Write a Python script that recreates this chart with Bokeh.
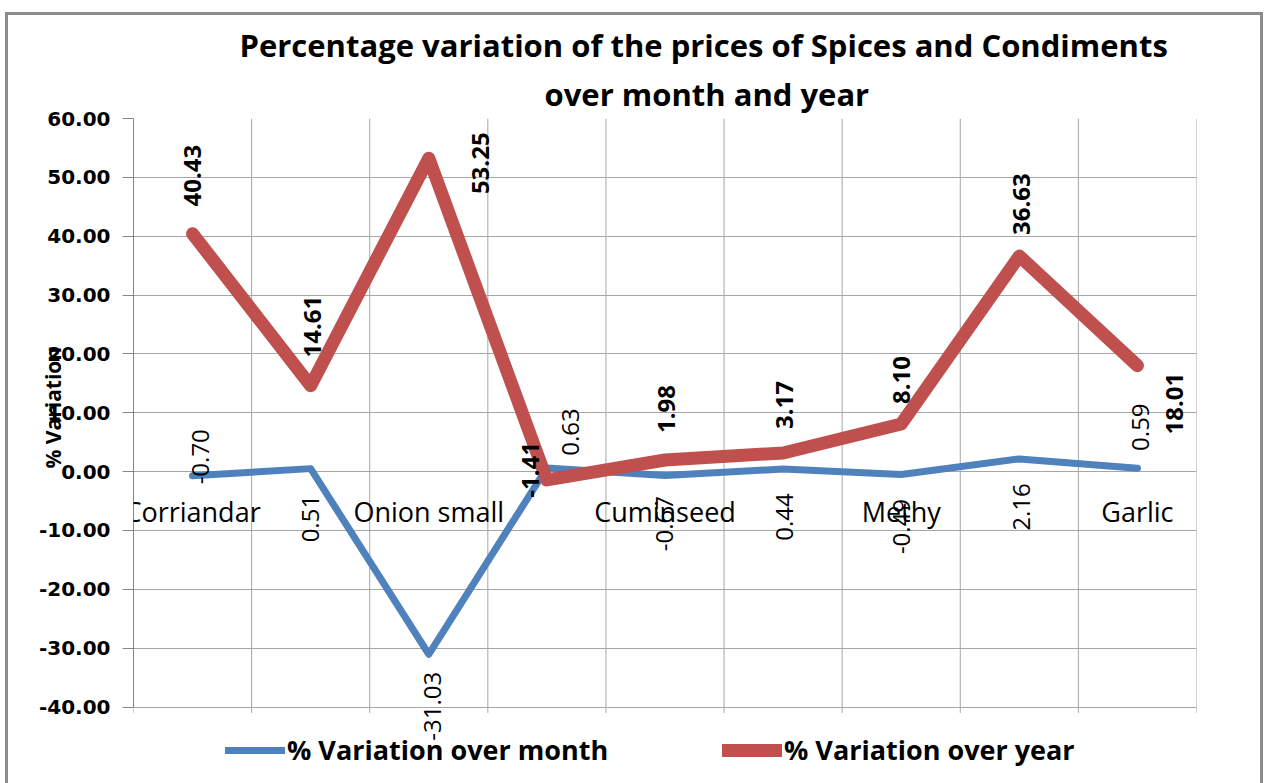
import math
from bokeh.plotting import figure
from bokeh.models import (ColumnDataSource, FixedTicker, LabelSet, Legend, LegendItem,
                          NumeralTickFormatter, Range1d, Title)
from bokeh.core.properties import value
from bokeh.embed import file_html
from bokeh.resources import INLINE

# ---------------- data ----------------
categories = ["Corriandar", "", "Onion small", "", "Cuminseed", "", "Methy", "", "Garlic"]
month_var = [-0.70, 0.51, -31.03, 0.63, -0.67, 0.44, -0.49, 2.16, 0.59]
year_var = [40.43, 14.61, 53.25, -1.41, 1.98, 3.17, 8.10, 36.63, 18.01]
y_ticks = [-40, -30, -20, -10, 0, 10, 20, 30, 40, 50, 60]
title_lines = ["Percentage variation of the prices of Spices and Condiments",
               "over month and year"]
y_label = "% Variation"
series_names = ["% Variation over month", "% Variation over year"]

# ---------------- layout (label offsets in px, up positive) ----------------
month_dx = [8, 0, 4, 24, 0, 1, 0, 2, 3]
month_dy = [19, -50, -52, 36, -48, -48, -52, -48, 41]
year_dx = [0, 2, 52, -16, 2, 1, 0, 2, 37]
year_dy = [58, 59, -5, 10, 51, 48, 44, 52, -38]

BLUE = "#4F81BD"
RED = "#C0504D"
GRID = "#A6A6A6"
FONT = "Open Sans"

n = len(categories)
xs = list(range(1, n + 1))
bounds = [i + 0.5 for i in range(0, n + 1)]
y_lo, y_hi = y_ticks[0], y_ticks[-1]

p = figure(width=1258, height=771, output_backend="svg", toolbar_location=None,
           x_range=Range1d(0.5, n + 0.5), y_range=Range1d(y_lo - 13.5, y_hi),
           x_axis_location=None,
           min_border_left=125, min_border_right=70, min_border_top=103,
           min_border_bottom=0)
p.styles = {"margin-left": "5px", "margin-top": "12px",
            "border-left": "3px solid #8C8C8C", "border-top": "3px solid #8C8C8C",
            "border-right": "3px solid #8C8C8C"}
p.background_fill_color = "white"
p.border_fill_color = "white"
p.outline_line_color = None

src = ColumnDataSource(dict(x=xs, month=month_var, year=year_var,
                            mtxt=["%.2f" % v for v in month_var],
                            ytxt=["%.2f" % v for v in year_var],
                            mdx=month_dx, mdy=month_dy, ydx=year_dx, ydy=year_dy))
cat_idx = [i for i, c in enumerate(categories) if c]
cat_src = ColumnDataSource(dict(x=[xs[i] for i in cat_idx],
                                cat=[categories[i] for i in cat_idx],
                                zero=[0] * len(cat_idx)))

# vertical grid lines between categories (with small ticks below the axis)
p.segment(x0=bounds, y0=[y_lo - 1] * len(bounds), x1=bounds, y1=[y_hi] * len(bounds),
          line_color=GRID, line_width=1)

r_month = p.line("x", "month", source=src, line_color=BLUE, line_width=7,
                 line_join="round", line_cap="round")
r_year = p.line("x", "year", source=src, line_color=RED, line_width=13,
                line_join="round", line_cap="round")

# y axis
p.yaxis.bounds = (y_lo, y_hi)
p.yaxis.ticker = FixedTicker(ticks=y_ticks)
p.yaxis.formatter = NumeralTickFormatter(format="0.00")
p.yaxis.major_label_text_font = "DejaVu Sans"
p.yaxis.major_label_text_font_style = "bold"
p.yaxis.major_label_text_font_size = "20px"
p.yaxis.major_label_text_color = "black"
p.yaxis.axis_line_color = "#868686"
p.yaxis.major_tick_line_color = "#868686"
p.yaxis.major_tick_out = 11
p.yaxis.major_tick_in = 0
p.yaxis.minor_tick_line_color = None
p.yaxis.major_label_standoff = 12

# y axis title (placed in the left panel, overlapping the tick labels as in the original)
p.add_layout(Title(text=y_label, align="left", offset=318, standoff=-62,
                   text_font=FONT, text_font_style="bold", text_font_size="21px",
                   text_color="black"), "left")

p.xgrid.grid_line_color = None
p.ygrid.ticker = FixedTicker(ticks=y_ticks)
p.ygrid.grid_line_color = GRID

# category labels along the zero line
p.add_layout(LabelSet(x="x", y="zero", text="cat", source=cat_src, y_offset=-40,
                      text_align="center", text_baseline="middle",
                      text_font=value(FONT), text_font_size=value("27px"),
                      text_color="black"))

# data labels
p.add_layout(LabelSet(x="x", y="month", text="mtxt", source=src,
                      x_offset="mdx", y_offset="mdy", angle=math.pi / 2,
                      text_align="center", text_baseline="middle",
                      text_font=value(FONT), text_font_size=value("24px"),
                      text_color="black"))
p.add_layout(LabelSet(x="x", y="year", text="ytxt", source=src,
                      x_offset="ydx", y_offset="ydy", angle=math.pi / 2,
                      text_align="center", text_baseline="middle",
                      text_font=value(FONT), text_font_style="bold",
                      text_font_size=value("24px"), text_color="black"))

# titles (second line first: it sits closest to the plot)
for line, off, so in [(title_lines[1], 411, 8), (title_lines[0], 106, 1)]:
    p.add_layout(Title(text=line, align="left", offset=off, standoff=so,
                       text_font=FONT, text_font_style="bold",
                       text_font_size="31px", text_color="black"), "above")

# legends inside the (extended) frame, below the -40 line
for r, name, loc in [(r_month, series_names[0], (92, 18)),
                     (r_year, series_names[1], (589, 18))]:
    p.add_layout(Legend(items=[LegendItem(label=name, renderers=[r])], location=loc,
                        orientation="horizontal", background_fill_alpha=0,
                        border_line_alpha=0, label_text_font=FONT,
                        label_text_font_style="bold", label_text_font_size="27px",
                        label_text_color="black", glyph_width=60, glyph_height=24,
                        label_standoff=2, padding=0, margin=0))

open("out.html", "w").write(file_html(p, INLINE))
